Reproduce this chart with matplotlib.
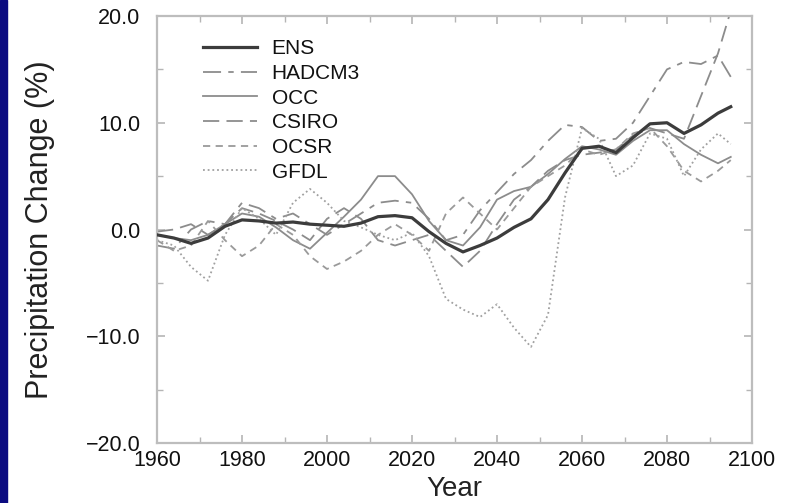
import numpy as np
import matplotlib
matplotlib.use('Agg')
import matplotlib.pyplot as plt
from matplotlib.patches import Rectangle
from matplotlib.ticker import MultipleLocator, FuncFormatter

# data (percent change), 4-year steps
years = [1960, 1964, 1968, 1972, 1976, 1980, 1984, 1988, 1992, 1996, 2000,
         2004, 2008, 2012, 2016, 2020, 2024, 2028, 2032, 2036, 2040, 2044,
         2048, 2052, 2056, 2060, 2064, 2068, 2072, 2076, 2080, 2084, 2088,
         2092, 2095]

ens = [-0.5, -0.8, -1.3, -0.8, 0.3, 0.9, 0.8, 0.6, 0.7, 0.5, 0.4,
       0.3, 0.6, 1.2, 1.3, 1.1, -0.2, -1.3, -2.1, -1.5, -0.8, 0.2,
       1.0, 2.8, 5.3, 7.6, 7.8, 7.2, 8.6, 9.9, 10.0, 9.0, 9.8,
       10.9, 11.5]

hadcm3 = [-1.5, -1.8, 0.0, 0.8, 0.5, 2.5, 2.0, 1.0, 1.5, 0.5, -0.5,
          0.5, 1.5, 2.5, 2.7, 2.5, 1.0, -1.0, -0.5, 1.8, 3.5, 5.2,
          6.5, 8.3, 9.8, 9.6, 8.3, 8.5, 10.0, 12.5, 15.0, 15.7, 15.5,
          16.3, 14.3]

occ = [-0.5, -0.8, -1.0, -0.5, 0.5, 1.5, 1.2, 0.2, -1.0, -1.8, -0.3,
       1.2, 2.8, 5.0, 5.0, 3.3, 0.8, -1.0, -1.5, 0.2, 2.8, 3.6,
       4.0, 5.2, 6.6, 7.8, 7.5, 7.0, 8.3, 9.3, 9.3, 8.0, 7.0,
       6.2, 6.8]

csiro = [-0.2, 0.0, 0.5, -0.5, 0.5, 2.0, 1.5, 0.8, 0.0, -1.0, 1.0,
         2.0, 1.0, -1.0, -1.5, -1.0, -0.5, -2.0, -3.5, -2.0, 0.5, 2.8,
         4.0, 5.5, 6.5, 7.0, 7.2, 7.5, 8.8, 9.5, 9.0, 8.5, 12.5,
         16.5, 20.5]

ocsr = [-1.0, -2.0, -1.5, 0.8, -1.0, -2.5, -1.5, 0.5, -0.5, -2.5, -3.7,
        -3.0, -2.0, -0.5, 0.5, -0.5, -2.0, 1.5, 3.0, 1.5, 0.0, 2.0,
        4.0, 5.0, 6.0, 7.5, 7.0, 7.5, 9.0, 9.5, 7.8, 5.5, 4.5,
        5.5, 6.5]

gfdl = [-1.0, -1.5, -3.5, -4.8, -0.5, 2.0, 1.0, -0.5, 2.5, 3.8, 2.5,
        0.8, 0.2, -0.5, -1.0, -0.3, -2.5, -6.5, -7.5, -8.2, -7.0, -9.2,
        -11.0, -8.0, 3.0, 9.5, 8.5, 5.0, 6.0, 9.0, 8.5, 5.0, 7.5,
        9.0, 8.0]

plt.rcParams['font.family'] = ['Liberation Sans', 'DejaVu Sans']

fig = plt.figure(figsize=(7.92, 5.03), dpi=100)
fig.patch.set_facecolor('white')
# dark blue strip on the left edge
fig.patches.append(Rectangle((0, 0), 7 / 792, 1, transform=fig.transFigure,
                             color='#0b0b80', zorder=0))

ax = fig.add_axes([157 / 792, 1 - 443 / 503, 595 / 792, 427 / 503])

ax.plot(years, hadcm3, color='#8c8c8c', lw=1.3, dashes=(10, 4, 3, 4), label='HADCM3')
ax.plot(years, occ, color='#8c8c8c', lw=1.3, label='OCC')
ax.plot(years, csiro, color='#8c8c8c', lw=1.3, dashes=(9, 4), label='CSIRO')
ax.plot(years, ocsr, color='#9a9a9a', lw=1.3, dashes=(4, 3), label='OCSR')
ax.plot(years, gfdl, color='#a0a0a0', lw=1.3, dashes=(1, 1.6), label='GFDL')
ax.plot(years, ens, color='#3c3c3c', lw=2.3, label='ENS', zorder=5)

ax.set_xlim(1960, 2100)
ax.set_ylim(-20, 20)
ax.xaxis.set_major_locator(MultipleLocator(20))
ax.xaxis.set_minor_locator(MultipleLocator(10))
ax.yaxis.set_major_locator(MultipleLocator(10))
ax.yaxis.set_minor_locator(MultipleLocator(5))
ax.yaxis.set_major_formatter(FuncFormatter(lambda v, p: f'{v:.1f}'.replace('-', '\u2212')))

for s in ax.spines.values():
    s.set_color('#bdbdbd')
    s.set_linewidth(1.6)
ax.tick_params(which='both', direction='in', top=True, right=True, color='#b5b5b5')
ax.tick_params(which='major', length=6, width=1.2, labelsize=15.5, labelcolor='#111111')
ax.tick_params(which='minor', length=4, width=1.0)
ax.tick_params(axis='y', pad=12)
ax.tick_params(axis='x', pad=5)

ax.set_xlabel('Year', fontsize=20, color='#222222', labelpad=4)
ax.set_ylabel('Precipitation Change (%)', fontsize=22, color='#222222', labelpad=22)

handles, labels = ax.get_legend_handles_labels()
order = ['ENS', 'HADCM3', 'OCC', 'CSIRO', 'OCSR', 'GFDL']
hmap = dict(zip(labels, handles))
ax.legend([hmap[k] for k in order], order, loc='upper left',
          bbox_to_anchor=(0.077, 0.945), frameon=False, fontsize=15,
          handlelength=2.6, handletextpad=0.7, labelspacing=0.27,
          borderpad=0, borderaxespad=0, labelcolor='#111111')

fig.savefig('out.png', dpi=100, facecolor='white')
